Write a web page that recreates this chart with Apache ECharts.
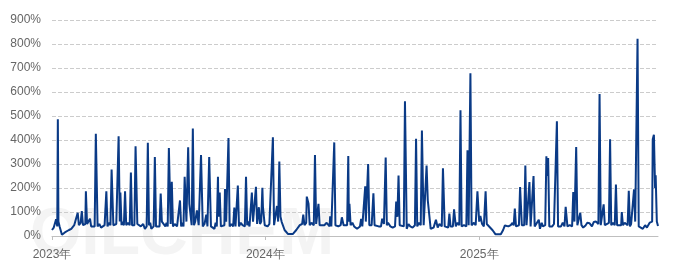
<!DOCTYPE html>
<html>
<head>
<meta charset="utf-8">
<script src="https://cdn.jsdelivr.net/npm/echarts@6/dist/echarts.min.js"></script>
<style>
html,body{margin:0;padding:0;background:#fff;}
#chart{width:675px;height:272px;}
</style>
</head>
<body>
<div id="chart"></div>
<script>
const dates = [
'2023-01-01','2023-01-04','2023-01-05','2023-01-08','2023-01-10','2023-01-11','2023-01-12','2023-01-14','2023-01-18','2023-01-23','2023-01-30',
'2023-02-06','2023-02-11','2023-02-14','2023-02-16','2023-02-21','2023-02-23','2023-02-27','2023-02-28','2023-03-02','2023-03-07','2023-03-09',
'2023-03-15','2023-03-17','2023-03-20','2023-03-26','2023-04-01','2023-04-04','2023-04-06','2023-04-11','2023-04-13','2023-04-16','2023-04-21',
'2023-04-23','2023-04-25','2023-04-27','2023-04-28','2023-04-30','2023-05-04','2023-05-06','2023-05-08','2023-05-14','2023-05-16','2023-05-18',
'2023-05-22','2023-05-24','2023-05-27','2023-06-02','2023-06-09','2023-06-12','2023-06-14','2023-06-16','2023-06-20','2023-06-24','2023-06-26',
'2023-06-28','2023-07-04','2023-07-06','2023-07-08','2023-07-11','2023-07-14','2023-07-18','2023-07-20','2023-07-23','2023-07-25','2023-07-27',
'2023-08-03','2023-08-06','2023-08-08','2023-08-10','2023-08-14','2023-08-16','2023-08-19','2023-08-22','2023-08-24','2023-08-28','2023-08-30',
'2023-09-01','2023-09-06','2023-09-09','2023-09-13','2023-09-16','2023-09-22','2023-09-24','2023-09-27','2023-09-30','2023-10-06','2023-10-10',
'2023-10-12','2023-10-13','2023-10-15','2023-10-17','2023-10-23','2023-10-24','2023-10-26','2023-10-30','2023-11-01','2023-11-07','2023-11-09',
'2023-11-11','2023-11-15','2023-11-17','2023-11-23','2023-11-27','2023-11-29','2023-12-01','2023-12-05','2023-12-07','2023-12-09','2023-12-11',
'2023-12-14','2023-12-16','2023-12-18','2023-12-21','2023-12-23','2023-12-25','2023-12-27','2023-12-28','2023-12-31',
'2024-01-05','2024-01-11','2024-01-14','2024-01-16','2024-01-19','2024-01-21','2024-01-23','2024-01-25','2024-01-27','2024-01-29','2024-02-03',
'2024-02-09','2024-02-17','2024-02-23','2024-02-29','2024-03-04','2024-03-06','2024-03-08','2024-03-11','2024-03-12','2024-03-15','2024-03-17',
'2024-03-24','2024-03-26','2024-03-28','2024-04-01','2024-04-03','2024-04-11','2024-04-20','2024-04-21','2024-04-23','2024-04-26','2024-04-28',
'2024-04-30','2024-05-05','2024-05-09','2024-05-11','2024-05-14','2024-05-20','2024-05-22','2024-05-23','2024-05-24','2024-05-26','2024-06-01',
'2024-06-06','2024-06-11','2024-06-13','2024-06-15','2024-06-18','2024-06-20','2024-06-21','2024-06-25','2024-06-27','2024-07-01','2024-07-04',
'2024-07-06','2024-07-13','2024-07-17','2024-07-19','2024-07-22','2024-07-25','2024-07-27','2024-08-02','2024-08-10','2024-08-12','2024-08-14',
'2024-08-16','2024-08-18','2024-08-25','2024-08-27','2024-08-30','2024-09-05','2024-09-13','2024-09-15','2024-09-17','2024-09-23','2024-09-25',
'2024-09-28','2024-10-03','2024-10-05','2024-10-10','2024-10-15','2024-10-19','2024-10-22','2024-10-29','2024-10-31','2024-11-03','2024-11-09',
'2024-11-11','2024-11-13','2024-11-17','2024-11-19','2024-11-22','2024-11-28','2024-11-30','2024-12-02','2024-12-10','2024-12-12','2024-12-14',
'2024-12-17','2024-12-19','2024-12-26','2024-12-29',
'2025-01-01','2025-01-03','2025-01-06','2025-01-12','2025-01-14','2025-01-17','2025-01-24','2025-01-29','2025-02-07','2025-02-11','2025-02-14',
'2025-02-17','2025-02-20','2025-03-01','2025-03-03','2025-03-05','2025-03-10','2025-03-12','2025-03-15','2025-03-19','2025-03-21','2025-03-23',
'2025-03-26','2025-03-28','2025-03-30','2025-04-02','2025-04-04','2025-04-06','2025-04-09','2025-04-13','2025-04-15','2025-04-20','2025-04-24',
'2025-04-26','2025-04-27','2025-04-29','2025-05-01','2025-05-06','2025-05-12','2025-05-14','2025-05-16','2025-05-21','2025-05-27','2025-05-29',
'2025-06-01','2025-06-09','2025-06-11','2025-06-13','2025-06-16','2025-06-18','2025-06-23','2025-06-25','2025-07-02','2025-07-09','2025-07-16',
'2025-07-24','2025-07-26','2025-07-28','2025-08-02','2025-08-04','2025-08-11','2025-08-13','2025-08-15','2025-08-21','2025-08-23','2025-08-25',
'2025-09-01','2025-09-02','2025-09-04','2025-09-12','2025-09-14','2025-09-16','2025-09-21','2025-09-23','2025-09-25','2025-09-29','2025-10-01',
'2025-10-08','2025-10-15','2025-10-20','2025-10-24','2025-10-25','2025-10-27','2025-10-29','2025-10-30','2025-11-01','2025-11-03'
];
const values = [
25,35,30,70,40,486,60,40,5,15,25,
35,40,97,45,104,45,50,186,50,72,40,
40,426,40,35,45,186,40,45,277,45,50,
50,416,60,181,45,45,186,45,45,264,45,
45,374,50,40,30,40,388,45,30,40,329,
40,40,177,60,66,40,40,367,50,226,40,
40,40,148,40,40,247,60,370,134,45,448,
45,107,45,337,40,89,40,329,40,30,40,
247,80,181,40,45,196,60,408,40,40,119,
40,210,40,45,40,247,45,40,40,181,60,
60,205,50,120,50,60,201,120,45,
40,45,411,45,50,125,60,310,80,59,25,
8,8,25,45,50,89,45,55,164,134,45,
45,337,50,134,45,45,40,82,40,45,390,
45,40,45,78,45,45,333,60,134,45,40,
30,40,71,40,45,207,60,300,45,45,178,
45,40,40,72,50,327,45,40,40,144,80,
252,45,40,561,30,40,45,405,40,45,440,
45,294,150,30,35,68,35,40,282,40,35,
93,40,40,111,40,45,524,40,40,357,45,
678,45,45,186,
60,83,50,186,50,44,24,7,7,25,44,
50,40,44,114,40,45,204,45,45,294,45,
45,225,40,40,250,40,45,68,30,40,45,
332,250,325,40,40,45,478,40,40,40,122,
40,40,183,60,371,45,97,45,44,53,58,
50,592,45,132,45,55,403,45,45,214,45,
45,100,45,45,188,40,45,194,60,822,40,
30,35,56,60,403,422,200,253,60,42
];
// extra readings of the noisy baseline between the spikes
const baseDates = [
'2023-01-26','2023-02-03','2023-02-08','2023-02-19','2023-02-25','2023-03-04','2023-03-12','2023-03-23','2023-03-29','2023-04-08',
'2023-04-19','2023-05-01','2023-05-11','2023-05-20','2023-05-30','2023-06-06','2023-06-18','2023-07-01','2023-07-16','2023-07-30',
'2023-08-12','2023-09-03','2023-09-19','2023-10-03','2023-10-08','2023-10-20','2023-11-04','2023-11-20','2023-12-03',
'2024-01-08','2024-03-20','2024-04-06','2024-04-15','2024-05-17','2024-05-29','2024-06-03','2024-07-09','2024-07-29','2024-08-06',
'2024-08-21','2024-09-02','2024-09-09','2024-09-20','2024-10-25','2024-11-06','2024-11-25','2024-12-06','2024-12-23',
'2025-01-09','2025-02-24','2025-02-27','2025-03-07','2025-03-17','2025-04-18','2025-05-04','2025-05-09','2025-05-19','2025-05-24',
'2025-06-05','2025-06-28','2025-07-05','2025-07-13','2025-07-20','2025-07-31','2025-08-07','2025-08-18','2025-08-28','2025-09-07',
'2025-09-18','2025-10-04','2025-10-12'
];
const baseValues = [
20,30,45,55,40,55,45,50,40,55,
40,60,55,40,45,50,55,45,55,50,
55,60,50,45,55,40,50,55,60,
50,55,40,55,40,55,45,50,55,35,
45,50,35,55,50,45,55,45,55,
40,45,55,40,50,55,35,50,45,55,
45,35,55,40,60,50,40,55,40,55,
50,40,45
];
const yTicks = ['0%','100%','200%','300%','400%','500%','600%','700%','800%','900%'];

const chart = echarts.init(document.getElementById('chart'), null, {renderer:'canvas'});
const seriesData = dates.map((d,i)=>[d, values[i]])
  .concat(baseDates.map((d,i)=>[d, baseValues[i]]))
  .sort((a,b)=> (a[0] < b[0] ? -1 : a[0] > b[0] ? 1 : 0));
const YEAR = 365*24*3600*1000;
chart.setOption({
  animation:false,
  backgroundColor:'#fff',
  graphic:[{
    type:'text', left:30, top:203, z:-10, silent:true,
    style:{text:'OILCHEM', fontSize:66, fontWeight:'bold', fontFamily:'Arial, Liberation Sans, sans-serif', fill:'rgba(200,200,200,0.2)'}
  }],
  grid:{left:52, right:17, top:20, bottom:36},
  xAxis:{
    type:'time',
    min:dates[0], max:dates[dates.length-1],
    minInterval:YEAR, maxInterval:YEAR*1.01,
    axisLine:{lineStyle:{color:'#bfbfbf'}},
    axisTick:{show:true, length:4, lineStyle:{color:'#bfbfbf'}},
    axisLabel:{color:'#666', fontSize:12, margin:13, formatter:function(v){return new Date(v).getFullYear()+'年';}},
    splitLine:{show:false}
  },
  yAxis:{
    type:'value', min:0, max:900, interval:100,
    axisLine:{show:false}, axisTick:{show:false},
    axisLabel:{color:'#666', fontSize:12, margin:11, formatter:function(v){return yTicks[Math.round(v/100)];}},
    splitLine:{lineStyle:{color:'#cccccc', type:'dashed'}}
  },
  series:[{
    type:'line', data:seriesData, showSymbol:false, symbol:'none',
    lineStyle:{color:'#0a3a86', width:2}, itemStyle:{color:'#0a3a86'}
  }]
});
</script>
</body>
</html>
